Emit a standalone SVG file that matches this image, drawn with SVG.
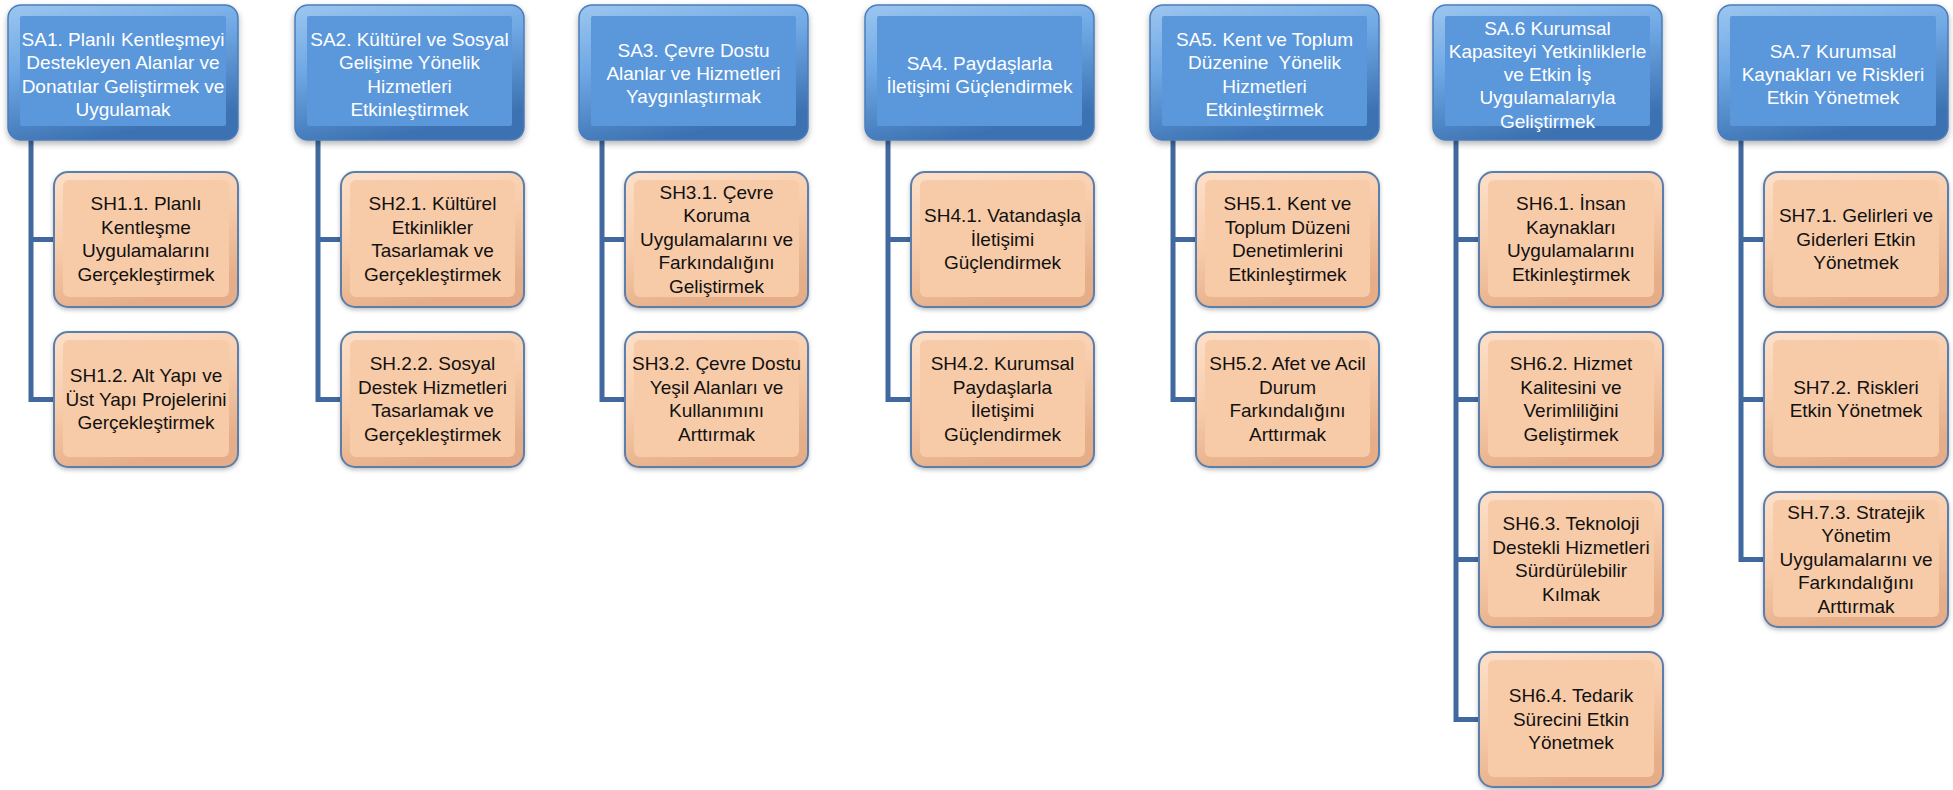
<svg xmlns="http://www.w3.org/2000/svg" width="1953" height="790" viewBox="0 0 1953 790">
<style>
.sa-text{font-family:"Liberation Sans",Arial,sans-serif;font-size:19px;fill:#ffffff;text-anchor:middle}
.sh-text{font-family:"Liberation Sans",Arial,sans-serif;font-size:19px;fill:#111111;text-anchor:middle}
.conn{fill:none;stroke:#41699F;stroke-width:5;stroke-linejoin:miter;stroke-linecap:butt}
.sa-outer{fill:url(#saGrad);stroke:#4A7DBB;stroke-width:1.5;filter:url(#shadow)}
.sa-inner{fill:#5B97DB}
.sh-outer{fill:url(#shGrad);stroke:#5C7EAA;stroke-width:2;filter:url(#shadow2)}
.sh-inner{fill:#F8CBA8}
</style>
<defs>
<linearGradient id="saGrad" x1="0" y1="0" x2="0.35" y2="1">
<stop offset="0" stop-color="#9CC6EF"/>
<stop offset="0.45" stop-color="#6FA8E4"/>
<stop offset="1" stop-color="#3D72B2"/>
</linearGradient>
<linearGradient id="shGrad" x1="0" y1="0" x2="0.35" y2="1">
<stop offset="0" stop-color="#FCE0CA"/>
<stop offset="0.5" stop-color="#F8CCAB"/>
<stop offset="1" stop-color="#E5AE88"/>
</linearGradient>
<filter id="shadow" x="-10%" y="-10%" width="120%" height="125%">
<feDropShadow dx="0" dy="3" stdDeviation="3" flood-color="#000" flood-opacity="0.3"/>
</filter>
<filter id="shadow2" x="-10%" y="-10%" width="120%" height="125%">
<feDropShadow dx="0" dy="2" stdDeviation="2" flood-color="#000" flood-opacity="0.25"/>
</filter>
</defs>
<rect width="1953" height="790" fill="#ffffff"/>

<g id="connectors">
<path class="conn" d="M31 140 V399.5 H54 M31 239.5 H54"/>
<path class="conn" d="M318 140 V399.5 H341 M318 239.5 H341"/>
<path class="conn" d="M602 140 V399.5 H625 M602 239.5 H625"/>
<path class="conn" d="M888 140 V399.5 H911 M888 239.5 H911"/>
<path class="conn" d="M1173 140 V399.5 H1196 M1173 239.5 H1196"/>
<path class="conn" d="M1456 140 V719.5 H1479 M1456 239.5 H1479 M1456 399.5 H1479 M1456 559.5 H1479"/>
<path class="conn" d="M1741 140 V559.5 H1764 M1741 239.5 H1764 M1741 399.5 H1764"/>
</g>

<!-- SA nodes -->
<g id="sa1"><rect class="sa-outer" x="8" y="5" width="230" height="135" rx="13"/><rect class="sa-inner" x="20" y="16" width="206" height="110" rx="2"/>
<text class="sa-text"><tspan x="123" y="46">SA1. Planlı Kentleşmeyi</tspan><tspan x="123" y="69.3">Destekleyen Alanlar ve</tspan><tspan x="123" y="92.6">Donatılar Geliştirmek ve</tspan><tspan x="123" y="115.9">Uygulamak</tspan></text></g>
<g id="sa2"><rect class="sa-outer" x="295" y="5" width="229" height="135" rx="13"/><rect class="sa-inner" x="307" y="16" width="205" height="110" rx="2"/>
<text class="sa-text"><tspan x="409.5" y="46">SA2. Kültürel ve Sosyal</tspan><tspan x="409.5" y="69.3">Gelişime Yönelik</tspan><tspan x="409.5" y="92.6">Hizmetleri</tspan><tspan x="409.5" y="115.9">Etkinleştirmek</tspan></text></g>
<g id="sa3"><rect class="sa-outer" x="579" y="5" width="229" height="135" rx="13"/><rect class="sa-inner" x="591" y="16" width="205" height="110" rx="2"/>
<text class="sa-text"><tspan x="693.5" y="56.5">SA3. Çevre Dostu</tspan><tspan x="693.5" y="79.8">Alanlar ve Hizmetleri</tspan><tspan x="693.5" y="103.1">Yaygınlaştırmak</tspan></text></g>
<g id="sa4"><rect class="sa-outer" x="865" y="5" width="229" height="135" rx="13"/><rect class="sa-inner" x="877" y="16" width="205" height="110" rx="2"/>
<text class="sa-text"><tspan x="979.5" y="69.5">SA4. Paydaşlarla</tspan><tspan x="979.5" y="92.8">İletişimi Güçlendirmek</tspan></text></g>
<g id="sa5"><rect class="sa-outer" x="1150" y="5" width="229" height="135" rx="13"/><rect class="sa-inner" x="1162" y="16" width="205" height="110" rx="2"/>
<text class="sa-text" xml:space="preserve"><tspan x="1264.5" y="46">SA5. Kent ve Toplum</tspan><tspan x="1264.5" y="69.3">Düzenine  Yönelik</tspan><tspan x="1264.5" y="92.6">Hizmetleri</tspan><tspan x="1264.5" y="115.9">Etkinleştirmek</tspan></text></g>
<g id="sa6"><rect class="sa-outer" x="1433" y="5" width="229" height="135" rx="13"/><rect class="sa-inner" x="1445" y="16" width="205" height="110" rx="2"/>
<text class="sa-text"><tspan x="1547.5" y="34.5">SA.6 Kurumsal</tspan><tspan x="1547.5" y="57.8">Kapasiteyi Yetkinliklerle</tspan><tspan x="1547.5" y="81.1">ve Etkin İş</tspan><tspan x="1547.5" y="104.4">Uygulamalarıyla</tspan><tspan x="1547.5" y="127.7">Geliştirmek</tspan></text></g>
<g id="sa7"><rect class="sa-outer" x="1718" y="5" width="230" height="135" rx="13"/><rect class="sa-inner" x="1730" y="16" width="206" height="110" rx="2"/>
<text class="sa-text"><tspan x="1833" y="57.5">SA.7 Kurumsal</tspan><tspan x="1833" y="80.8">Kaynakları ve Riskleri</tspan><tspan x="1833" y="104.1">Etkin Yönetmek</tspan></text></g>

<!-- SH nodes -->
<g id="sh11"><rect class="sh-outer" x="54" y="172" width="184" height="135" rx="14"/><rect class="sh-inner" x="63" y="180" width="166" height="117" rx="6"/>
<text class="sh-text"><tspan x="146" y="210.2">SH1.1. Planlı</tspan><tspan x="146" y="233.7">Kentleşme</tspan><tspan x="146" y="257.2">Uygulamalarını</tspan><tspan x="146" y="280.7">Gerçekleştirmek</tspan></text></g>
<g id="sh12"><rect class="sh-outer" x="54" y="332" width="184" height="135" rx="14"/><rect class="sh-inner" x="63" y="340" width="166" height="117" rx="6"/>
<text class="sh-text"><tspan x="146" y="382">SH1.2. Alt Yapı ve</tspan><tspan x="146" y="405.5">Üst Yapı Projelerini</tspan><tspan x="146" y="429">Gerçekleştirmek</tspan></text></g>

<g id="sh21"><rect class="sh-outer" x="341" y="172" width="183" height="135" rx="14"/><rect class="sh-inner" x="350" y="180" width="165" height="117" rx="6"/>
<text class="sh-text"><tspan x="432.5" y="210.2">SH2.1. Kültürel</tspan><tspan x="432.5" y="233.7">Etkinlikler</tspan><tspan x="432.5" y="257.2">Tasarlamak ve</tspan><tspan x="432.5" y="280.7">Gerçekleştirmek</tspan></text></g>
<g id="sh22"><rect class="sh-outer" x="341" y="332" width="183" height="135" rx="14"/><rect class="sh-inner" x="350" y="340" width="165" height="117" rx="6"/>
<text class="sh-text"><tspan x="432.5" y="370.2">SH.2.2. Sosyal</tspan><tspan x="432.5" y="393.7">Destek Hizmetleri</tspan><tspan x="432.5" y="417.2">Tasarlamak ve</tspan><tspan x="432.5" y="440.7">Gerçekleştirmek</tspan></text></g>

<g id="sh31"><rect class="sh-outer" x="625" y="172" width="183" height="135" rx="14"/><rect class="sh-inner" x="634" y="180" width="165" height="117" rx="6"/>
<text class="sh-text"><tspan x="716.5" y="198.5">SH3.1. Çevre</tspan><tspan x="716.5" y="222">Koruma</tspan><tspan x="716.5" y="245.5">Uygulamalarını ve</tspan><tspan x="716.5" y="269">Farkındalığını</tspan><tspan x="716.5" y="292.5">Geliştirmek</tspan></text></g>
<g id="sh32"><rect class="sh-outer" x="625" y="332" width="183" height="135" rx="14"/><rect class="sh-inner" x="634" y="340" width="165" height="117" rx="6"/>
<text class="sh-text"><tspan x="716.5" y="370.2">SH3.2. Çevre Dostu</tspan><tspan x="716.5" y="393.7">Yeşil Alanları ve</tspan><tspan x="716.5" y="417.2">Kullanımını</tspan><tspan x="716.5" y="440.7">Arttırmak</tspan></text></g>

<g id="sh41"><rect class="sh-outer" x="911" y="172" width="183" height="135" rx="14"/><rect class="sh-inner" x="920" y="180" width="165" height="117" rx="6"/>
<text class="sh-text"><tspan x="1002.5" y="222">SH4.1. Vatandaşla</tspan><tspan x="1002.5" y="245.5">İletişimi</tspan><tspan x="1002.5" y="269">Güçlendirmek</tspan></text></g>
<g id="sh42"><rect class="sh-outer" x="911" y="332" width="183" height="135" rx="14"/><rect class="sh-inner" x="920" y="340" width="165" height="117" rx="6"/>
<text class="sh-text"><tspan x="1002.5" y="370.2">SH4.2. Kurumsal</tspan><tspan x="1002.5" y="393.7">Paydaşlarla</tspan><tspan x="1002.5" y="417.2">İletişimi</tspan><tspan x="1002.5" y="440.7">Güçlendirmek</tspan></text></g>

<g id="sh51"><rect class="sh-outer" x="1196" y="172" width="183" height="135" rx="14"/><rect class="sh-inner" x="1205" y="180" width="165" height="117" rx="6"/>
<text class="sh-text"><tspan x="1287.5" y="210.2">SH5.1. Kent ve</tspan><tspan x="1287.5" y="233.7">Toplum Düzeni</tspan><tspan x="1287.5" y="257.2">Denetimlerini</tspan><tspan x="1287.5" y="280.7">Etkinleştirmek</tspan></text></g>
<g id="sh52"><rect class="sh-outer" x="1196" y="332" width="183" height="135" rx="14"/><rect class="sh-inner" x="1205" y="340" width="165" height="117" rx="6"/>
<text class="sh-text"><tspan x="1287.5" y="370.2">SH5.2. Afet ve Acil</tspan><tspan x="1287.5" y="393.7">Durum</tspan><tspan x="1287.5" y="417.2">Farkındalığını</tspan><tspan x="1287.5" y="440.7">Arttırmak</tspan></text></g>

<g id="sh61"><rect class="sh-outer" x="1479" y="172" width="184" height="135" rx="14"/><rect class="sh-inner" x="1488" y="180" width="166" height="117" rx="6"/>
<text class="sh-text"><tspan x="1571" y="210.2">SH6.1. İnsan</tspan><tspan x="1571" y="233.7">Kaynakları</tspan><tspan x="1571" y="257.2">Uygulamalarını</tspan><tspan x="1571" y="280.7">Etkinleştirmek</tspan></text></g>
<g id="sh62"><rect class="sh-outer" x="1479" y="332" width="184" height="135" rx="14"/><rect class="sh-inner" x="1488" y="340" width="166" height="117" rx="6"/>
<text class="sh-text"><tspan x="1571" y="370.2">SH6.2. Hizmet</tspan><tspan x="1571" y="393.7">Kalitesini ve</tspan><tspan x="1571" y="417.2">Verimliliğini</tspan><tspan x="1571" y="440.7">Geliştirmek</tspan></text></g>
<g id="sh63"><rect class="sh-outer" x="1479" y="492" width="184" height="135" rx="14"/><rect class="sh-inner" x="1488" y="500" width="166" height="117" rx="6"/>
<text class="sh-text"><tspan x="1571" y="530.2">SH6.3. Teknoloji</tspan><tspan x="1571" y="553.7">Destekli Hizmetleri</tspan><tspan x="1571" y="577.2">Sürdürülebilir</tspan><tspan x="1571" y="600.7">Kılmak</tspan></text></g>
<g id="sh64"><rect class="sh-outer" x="1479" y="652" width="184" height="135" rx="14"/><rect class="sh-inner" x="1488" y="660" width="166" height="117" rx="6"/>
<text class="sh-text"><tspan x="1571" y="702">SH6.4. Tedarik</tspan><tspan x="1571" y="725.5">Sürecini Etkin</tspan><tspan x="1571" y="749">Yönetmek</tspan></text></g>

<g id="sh71"><rect class="sh-outer" x="1764" y="172" width="184" height="135" rx="14"/><rect class="sh-inner" x="1773" y="180" width="166" height="117" rx="6"/>
<text class="sh-text"><tspan x="1856" y="222">SH7.1. Gelirleri ve</tspan><tspan x="1856" y="245.5">Giderleri Etkin</tspan><tspan x="1856" y="269">Yönetmek</tspan></text></g>
<g id="sh72"><rect class="sh-outer" x="1764" y="332" width="184" height="135" rx="14"/><rect class="sh-inner" x="1773" y="340" width="166" height="117" rx="6"/>
<text class="sh-text"><tspan x="1856" y="393.7">SH7.2. Riskleri</tspan><tspan x="1856" y="417.2">Etkin Yönetmek</tspan></text></g>
<g id="sh73"><rect class="sh-outer" x="1764" y="492" width="184" height="135" rx="14"/><rect class="sh-inner" x="1773" y="500" width="166" height="117" rx="6"/>
<text class="sh-text"><tspan x="1856" y="518.5">SH.7.3. Stratejik</tspan><tspan x="1856" y="542">Yönetim</tspan><tspan x="1856" y="565.5">Uygulamalarını ve</tspan><tspan x="1856" y="589">Farkındalığını</tspan><tspan x="1856" y="612.5">Arttırmak</tspan></text></g>
</svg>
